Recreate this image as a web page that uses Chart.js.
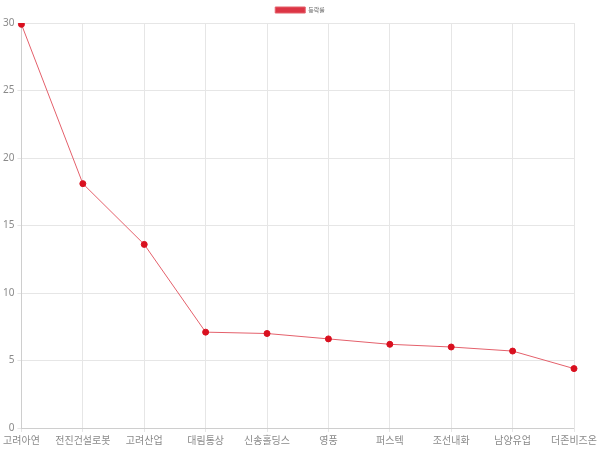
<!DOCTYPE html>
<html>
<head>
<meta charset="utf-8">
<script src="https://cdn.jsdelivr.net/npm/chart.js@4"></script>
<style>
  html, body { margin: 0; padding: 0; background: #fff; }
  #wrap { width: 600px; height: 450px; }
</style>
</head>
<body>
<div id="wrap"><canvas id="chart"></canvas></div>
<script>
// Data
const companies = ['고려아연', '전진건설로봇', '고려산업', '대림통상', '신송홀딩스', '영풍', '퍼스텍', '조선내화', '남양유업', '더존비즈온'];
const changeRates = [29.9, 18.1, 13.6, 7.1, 7.0, 6.6, 6.2, 6.0, 5.7, 4.4];
const seriesLabel = '등락률';

const tickFont = { family: '"Noto Sans", "Noto Sans CJK KR", sans-serif', size: 10 };

const ctx = document.getElementById('chart').getContext('2d');
new Chart(ctx, {
    type: 'line',
    data: {
        labels: companies,
        datasets: [{
            label: seriesLabel,
            data: changeRates,
            borderColor: '#e4606b',
            backgroundColor: '#dc3545',
            borderWidth: 1,
            pointRadius: 3,
            pointBackgroundColor: '#d9101f',
            pointBorderColor: '#d9101f',
            tension: 0,
            fill: false
        }]
    },
    options: {
        responsive: true,
        maintainAspectRatio: false,
        animation: false,
        layout: { padding: { top: 1 } },
        plugins: {
            legend: {
                labels: {
                    boxWidth: 30,
                    padding: 6,
                    font: { family: '"Noto Sans CJK KR", sans-serif', size: 6 },
                    color: '#666'
                }
            }
        },
        scales: {
            x: {
                grid: { color: '#e6e6e6', tickLength: 4 },
                ticks: { color: '#8a8a8a', font: tickFont, maxRotation: 0 }
            },
            y: {
                min: 0,
                max: 30,
                grid: { color: '#e6e6e6', tickLength: 4 },
                ticks: { stepSize: 5, color: '#8a8a8a', font: tickFont }
            }
        }
    }
});
</script>
</body>
</html>
